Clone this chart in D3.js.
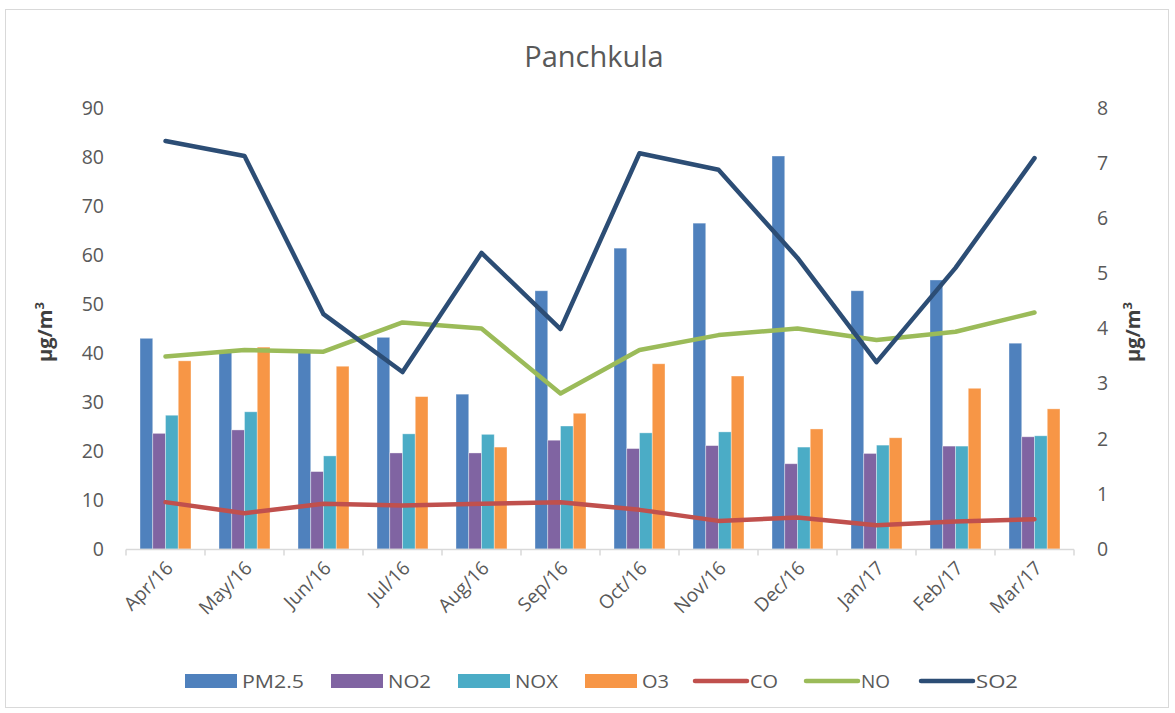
<!DOCTYPE html>
<html><head><meta charset="utf-8">
<script src="https://cdn.jsdelivr.net/npm/d3@7"></script>
<style>body{margin:0;background:#fff}text{font-family:"Open Sans",Lato,sans-serif}</style>
</head><body><svg id="c" width="1175" height="713"></svg>
<script>
const months = ["Apr/16","May/16","Jun/16","Jul/16","Aug/16","Sep/16","Oct/16","Nov/16","Dec/16","Jan/17","Feb/17","Mar/17"];
const pm25 = [43.0,40.5,40.2,43.2,31.6,52.7,61.4,66.5,80.2,52.7,54.9,42.0];
const no2  = [23.6,24.3,15.8,19.6,19.6,22.2,20.5,21.1,17.4,19.5,21.0,22.9];
const nox  = [27.3,28.0,19.0,23.5,23.4,25.1,23.7,23.9,20.8,21.2,21.0,23.1];
const o3   = [38.4,41.2,37.3,31.1,20.8,27.7,37.8,35.3,24.5,22.7,32.8,28.6];
const co   = [0.85,0.65,0.82,0.79,0.82,0.85,0.71,0.51,0.57,0.43,0.50,0.54];
const no   = [3.49,3.61,3.58,4.11,4.00,2.82,3.61,3.88,4.00,3.79,3.94,4.29];
const so2  = [7.40,7.13,4.26,3.21,5.37,3.99,7.18,6.88,5.28,3.39,5.10,7.09];
const leftTicks = [0,10,20,30,40,50,60,70,80,90];
const rightTicks = [0,1,2,3,4,5,6,7,8];
const barSeries = [{name:"PM2.5",values:pm25,color:"#4f81bd"},{name:"NO2",values:no2,color:"#8064a2"},{name:"NOX",values:nox,color:"#4bacc6"},{name:"O3",values:o3,color:"#f79646"}];
const lineSeries = [{name:"CO",values:co,color:"#c0504d"},{name:"NO",values:no,color:"#9bbb59"},{name:"SO2",values:so2,color:"#2c4d75"}];

const svg = d3.select("#c");
svg.append("rect").attr("x",5.5).attr("y",9.5).attr("width",1163).attr("height",698).attr("fill","#fff").attr("stroke","#d9d9d9");
const x0 = d3.scaleBand().domain(months).range([126,1074]);
const x1 = d3.scaleBand().domain(barSeries.map(d=>d.name)).range([14,65]);
const yL = d3.scaleLinear().domain([0,90]).range([549,108]);
const yR = d3.scaleLinear().domain([0,8]).range([549,108]);

svg.append("text").attr("x",594).attr("y",67).attr("text-anchor","middle").attr("font-size",29).attr("fill","#595959").text("Panchkula");

const gl = svg.append("g").attr("transform","translate(104,0)").call(d3.axisLeft(yL).tickValues(leftTicks).tickSize(0).tickPadding(0));
gl.select(".domain").remove();
gl.selectAll("text").attr("font-size",19.5).attr("fill","#595959").attr("font-family","Open Sans");
const gr = svg.append("g").attr("transform","translate(1097,0)").call(d3.axisRight(yR).tickValues(rightTicks).tickSize(0).tickPadding(0));
gr.select(".domain").remove();
gr.selectAll("text").attr("font-size",19.5).attr("fill","#595959").attr("font-family","Open Sans");

function unitTitle(x){
  const t = svg.append("text").attr("transform",`translate(${x},332) rotate(-90)`).attr("text-anchor","middle").attr("font-size",20).attr("font-weight","bold").attr("fill","#404040");
  t.append("tspan").text("µg/m");
  t.append("tspan").attr("dy",-8).attr("font-size",13).text("3");
}
unitTitle(52);
unitTitle(1140);

const groups = svg.append("g").selectAll("g").data(months).join("g").attr("transform",d=>`translate(${x0(d)},0)`);
groups.selectAll("rect").data((m,i)=>barSeries.map(s=>({s,v:s.values[i]}))).join("rect")
  .attr("x",d=>x1(d.s.name)).attr("width",x1.bandwidth())
  .attr("y",d=>yL(d.v)).attr("height",d=>yL(0)-yL(d.v))
  .attr("fill",d=>d.s.color).attr("stroke","rgba(255,255,255,0.45)").attr("stroke-width",0.8);

const gx = svg.append("g").attr("transform","translate(0,549.5)");
gx.append("line").attr("x1",126).attr("x2",1074).attr("stroke","#d9d9d9").attr("stroke-width",1.5);
const bounds = months.map(m=>x0(m)).concat([x0.range()[1]]);
gx.selectAll("line.t").data(bounds).join("line").attr("class","t").attr("x1",d=>d).attr("x2",d=>d).attr("y1",0).attr("y2",6).attr("stroke","#d9d9d9").attr("stroke-width",1.5);
gx.selectAll("text").data(months).join("text")
  .attr("transform",d=>`translate(${x0(d)+x0.bandwidth()/2+4},15) rotate(-45)`)
  .attr("text-anchor","end").attr("dy","0.35em").attr("font-size",19).attr("fill","#595959").text(d=>d);

const line = d3.line().x((d,i)=>x0(months[i])+x0.bandwidth()/2).y(d=>yR(d));
svg.append("g").selectAll("path").data(lineSeries).join("path")
  .attr("d",d=>line(d.values)).attr("fill","none").attr("stroke",d=>d.color)
  .attr("stroke-width",4.5).attr("stroke-linejoin","round").attr("stroke-linecap","round");

const legend = [
  {name:"PM2.5",color:"#4f81bd",type:"bar",x:185},
  {name:"NO2",color:"#8064a2",type:"bar",x:331},
  {name:"NOX",color:"#4bacc6",type:"bar",x:458},
  {name:"O3",color:"#f79646",type:"bar",x:585},
  {name:"CO",color:"#c0504d",type:"line",x:693},
  {name:"NO",color:"#9bbb59",type:"line",x:804},
  {name:"SO2",color:"#2c4d75",type:"line",x:919}
];
const lg = svg.append("g").selectAll("g").data(legend).join("g").attr("transform",d=>`translate(${d.x},681)`);
lg.filter(d=>d.type==="bar").append("rect").attr("x",0).attr("y",-7).attr("width",52).attr("height",14).attr("fill",d=>d.color);
lg.filter(d=>d.type==="line").append("line").attr("x1",2).attr("x2",54).attr("stroke",d=>d.color).attr("stroke-width",4.5).attr("stroke-linecap","round");
lg.append("text").attr("x",57).attr("dy","0.36em").attr("font-size",19).attr("fill","#595959").attr("textLength",d=>({"PM2.5":62,"NO2":43,"NOX":43,"O3":27,"CO":28,"NO":29,"SO2":42})[d.name]).attr("lengthAdjust","spacingAndGlyphs").text(d=>d.name);
</script></body></html>
